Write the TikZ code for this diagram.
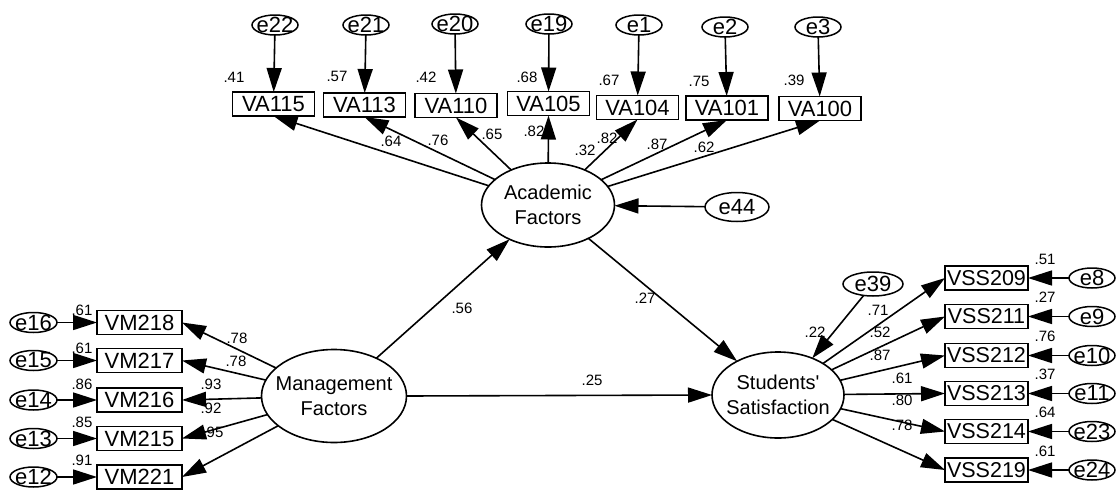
\documentclass[tikz,border=0pt]{standalone}
\usepackage{fontspec}
\setmainfont{Liberation Sans}
\usetikzlibrary{arrows.meta,shapes.geometric}
\begin{document}
\begin{tikzpicture}[x=1pt,y=-1pt,
  every node/.style={inner sep=0pt, outer sep=0pt},
  obs/.style={draw, line width=1.8pt, rectangle, minimum width=82pt, minimum height=24pt, font=\fontsize{22}{24}\selectfont},
  errtxt/.style={font=\fontsize{22}{24}\selectfont},
  err/.style={draw, line width=1.5pt, ellipse, minimum width=46pt, minimum height=20pt, label={[errtxt]center:#1}},
  lattxt/.style={font=\fontsize{20}{25}\selectfont, align=center},
  lat/.style={draw, line width=1.6pt, ellipse, label={[lattxt]center:{#1}}},
  lab/.style={font=\fontsize{15}{17}\selectfont},
  arr/.style={-{Triangle[length=24pt,width=15pt]}, line width=1.6pt},
]
\useasboundingbox (0,0) rectangle (1117,490);

% latent variables
\node[lat={Academic\\Factors}, minimum width=133pt, minimum height=84pt] (acad) at (548,205) {};
\node[lat={Management\\Factors}, minimum width=145pt, minimum height=93pt] (mgmt) at (334,396) {};
\node[lat={Students\textquotesingle\\Satisfaction}, minimum width=132pt, minimum height=86pt] (stud) at (778,395) {};

% top indicators
\node[obs] (va115) at (273.5,104) {VA115};
\node[obs] (va113) at (364.5,105) {VA113};
\node[obs] (va110) at (456,105.5) {VA110};
\node[obs] (va105) at (548.5,103.5) {VA105};
\node[obs] (va104) at (637.5,107.5) {VA104};
\node[obs] (va101) at (727,108) {VA101};
\node[obs] (va100) at (820,108.5) {VA100};

\node[err=e22] (e22) at (275,25) {};
\node[err=e21] (e21) at (366,25) {};
\node[err=e20] (e20) at (455,24) {};
\node[err=e19] (e19) at (549,24) {};
\node[err=e1] (e1) at (639,25) {};
\node[err=e2] (e2) at (725,27) {};
\node[err=e3] (e3) at (818,27) {};

\foreach \e/\v in {e22/va115,e21/va113,e20/va110,e19/va105,e1/va104,e2/va101,e3/va100}
  \draw[arr] (\e) -- (\v);
\foreach \v in {va115,va113,va110,va105,va104,va101,va100}
  \draw[arr] (acad) -- (\v.south);

\node[err=e44, minimum width=64pt, minimum height=29pt] (e44) at (737,207) {};
\draw[arr] (e44) -- (acad);

% left indicators
\node[obs, minimum width=85pt] (vm218) at (139.5,322.5) {VM218};
\node[obs, minimum width=85pt] (vm217) at (139.5,360.5) {VM217};
\node[obs, minimum width=85pt] (vm216) at (139.5,400) {VM216};
\node[obs, minimum width=85pt] (vm215) at (139.5,438.5) {VM215};
\node[obs, minimum width=85pt] (vm221) at (139.5,477) {VM221};

\node[err=e16, minimum width=47pt] (e16) at (33.5,322.5) {};
\node[err=e15, minimum width=47pt] (e15) at (33.5,360.5) {};
\node[err=e14, minimum width=47pt] (e14) at (33.5,400) {};
\node[err=e13, minimum width=47pt] (e13) at (33.5,438.5) {};
\node[err=e12, minimum width=47pt] (e12) at (33.5,477) {};

\foreach \e/\v in {e16/vm218,e15/vm217,e14/vm216,e13/vm215,e12/vm221}{
  \draw[arr] (\e) -- (\v);
  \draw[arr] (mgmt) -- (\v.east);
}

% right indicators
\node[obs, minimum width=83pt, font=\fontsize{21.5}{24}\selectfont] (vss209) at (986.5,278) {VSS209};
\node[obs, minimum width=83pt, font=\fontsize{21.5}{24}\selectfont] (vss211) at (986.5,316.5) {VSS211};
\node[obs, minimum width=83pt, font=\fontsize{21.5}{24}\selectfont] (vss212) at (986.5,355.5) {VSS212};
\node[obs, minimum width=83pt, font=\fontsize{21.5}{24}\selectfont] (vss213) at (986.5,393.5) {VSS213};
\node[obs, minimum width=83pt, font=\fontsize{21.5}{24}\selectfont] (vss214) at (986.5,431.5) {VSS214};
\node[obs, minimum width=83pt, font=\fontsize{21.5}{24}\selectfont] (vss219) at (986.5,470) {VSS219};

\node[err=e8] (e8) at (1092,278) {};
\node[err=e9] (e9) at (1092,316.5) {};
\node[err=e10] (e10) at (1092,355.5) {};
\node[err=e11] (e11) at (1092,393.5) {};
\node[err=e23] (e23) at (1092,431.5) {};
\node[err=e24] (e24) at (1092,470) {};

\foreach \e/\v in {e8/vss209,e9/vss211,e10/vss212,e11/vss213,e23/vss214,e24/vss219}{
  \draw[arr] (\e) -- (\v);
  \draw[arr] (stud) -- (\v.west);
}

\node[err=e39, minimum width=60pt, minimum height=24pt] (e39) at (873,284) {};
\draw[arr] (e39) -- (stud.47);

% structural paths
\draw[arr] (mgmt) -- (acad);
\draw[arr] (acad) -- (stud);
\draw[arr] (mgmt.east) -- (stud.west);

% labels: top
\node[lab] (l1) at (234,77) {.41};
\node[lab] (l2) at (337,76) {.57};
\node[lab] (l3) at (426,77) {.42};
\node[lab] (l4) at (527,77) {.68};
\node[lab] (l5) at (609,80) {.67};
\node[lab] (l6) at (699,81) {.75};
\node[lab] (l7) at (794,80) {.39};
\node[lab] (l8) at (391,141) {.64};
\node[lab] (l9) at (438,140) {.76};
\node[lab] (l10) at (492,134) {.65};
\node[lab] (l11) at (534,131) {.82};
\node[lab] (l12) at (585,150) {.32};
\node[lab] (l13) at (607,138) {.82};
\node[lab] (l14) at (657,144) {.87};
\node[lab] (l15) at (704,147) {.62};
% structural
\node[lab] (l16) at (462,308) {.56};
\node[lab] (l17) at (645,298) {.27};
\node[lab] (l18) at (592,380) {.25};
% left
\node[lab] (l19) at (82,310) {.61};
\node[lab] (l20) at (82,348) {.61};
\node[lab] (l21) at (82,384) {.86};
\node[lab] (l22) at (82,422) {.85};
\node[lab] (l23) at (82,460) {.91};
\node[lab] (l24) at (237,338) {.78};
\node[lab] (l25) at (236,361) {.78};
\node[lab] (l26) at (211,384) {.93};
\node[lab] (l27) at (211,408) {.92};
\node[lab] (l28) at (213,432) {.95};
% right
\node[lab] (l29) at (1045,259) {.51};
\node[lab] (l30) at (1045,297) {.27};
\node[lab] (l31) at (1045,336) {.76};
\node[lab] (l32) at (1045,374) {.37};
\node[lab] (l33) at (1045,412) {.64};
\node[lab] (l34) at (1045,451) {.61};
\node[lab] (l35) at (878,310) {.71};
\node[lab] (l36) at (880,332) {.52};
\node[lab] (l37) at (880,355) {.87};
\node[lab] (l38) at (902,378) {.61};
\node[lab] (l39) at (902,400) {.80};
\node[lab] (l40) at (902,425) {.78};
\node[lab] (l41) at (815,332) {.22};
\end{tikzpicture}
\end{document}
